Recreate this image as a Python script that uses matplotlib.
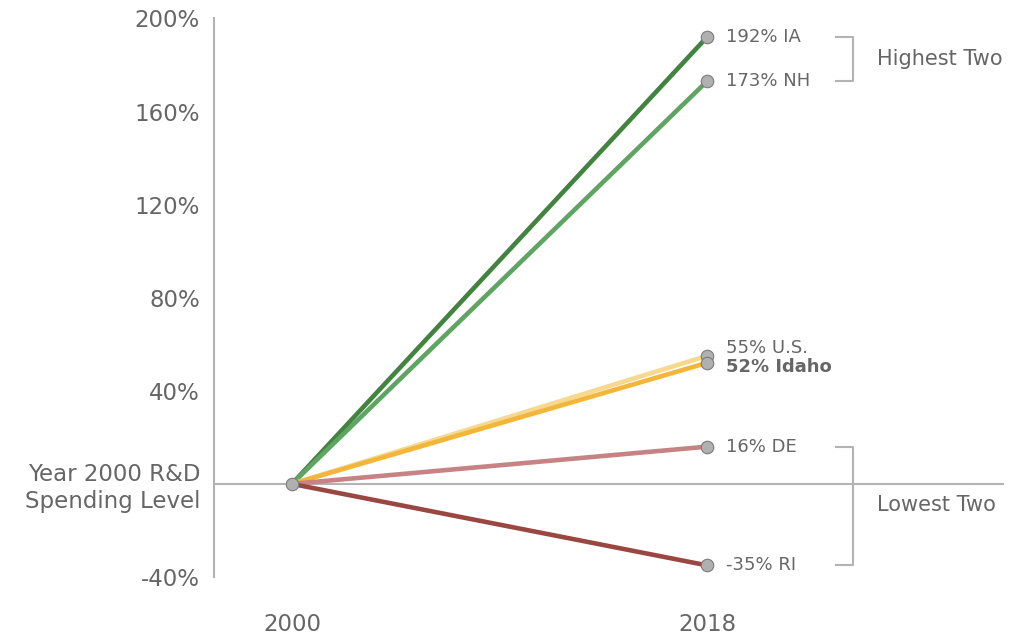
import matplotlib.pyplot as plt

# values: change in R&D spending since 2000, percent
years = [2000, 2018]
series = ['IA', 'NH', 'U.S.', 'Idaho', 'DE', 'RI']
end_values = [192, 173, 55, 52, 16, -35]
colors = ['#42843f', '#5fa462', '#f6d98c', '#f3b53a', '#c78383', '#9b4741']
label_dy = [0, 0, 6, -3, 0, 0]  # nudge labels that would overlap (points)
yticks = [-40, 0, 40, 80, 120, 160, 200]
ytick_labels = ['-40%', 'Year 2000 R&D\nSpending Level', '40%', '80%', '120%', '160%', '200%']

grey = '#666666'
axis_grey = '#b3b3b3'

plt.rcParams['font.family'] = ['DejaVu Sans']

fig = plt.figure(figsize=(10.21, 6.37), dpi=100)
ax = fig.add_axes([0.2096, 0.0942, 0.7738, 0.8769])

ax.axhline(0, color=axis_grey, lw=1.5, zorder=1)

for name, val, c, dy in zip(series, end_values, colors, label_dy):
    ax.plot(years, [0, val], color=c, lw=3.3, solid_capstyle='butt', zorder=2)
    ax.plot(years[1], val, 'o', ms=9, mfc='#b0b0b0', mec='#7a7a7a', mew=0.8, zorder=3)
    ax.annotate(f'{val}% {name}', (years[1], val), xytext=(14, dy),
                textcoords='offset points', va='center', ha='left',
                fontsize=13, color=grey,
                fontweight='bold' if name == 'Idaho' else 'normal')
ax.plot(years[0], 0, 'o', ms=9, mfc='#b0b0b0', mec='#7a7a7a', mew=0.8, zorder=3)

ax.set_xlim(1996.62, 2030.88)
ax.set_ylim(-40, 200)
ax.set_xticks(years)
ax.set_xticklabels([str(y) for y in years])
ax.set_yticks(yticks)
ax.set_yticklabels(ytick_labels)
ax.tick_params(axis='both', length=0, colors=grey, labelsize=16.5)
ax.tick_params(axis='y', pad=10)
ax.tick_params(axis='x', pad=26)

for s in ['top', 'right', 'bottom']:
    ax.spines[s].set_visible(False)
ax.spines['left'].set_color(axis_grey)
ax.spines['left'].set_linewidth(1.5)

# brackets
def bracket(y0, y1, text, ty):
    x0, x1 = 2023.6, 2024.35
    ax.plot([x0, x1, x1, x0], [y0, y0, y1, y1], color=axis_grey, lw=1.5, clip_on=False)
    ax.text(2025.35, ty, text, ha='left', va='center', fontsize=15, color=grey)

bracket(end_values[0], end_values[1], 'Highest Two', (end_values[0] + end_values[1]) / 2)
bracket(end_values[4], end_values[5], 'Lowest Two', -9)

fig.savefig('out.png', dpi=100)
